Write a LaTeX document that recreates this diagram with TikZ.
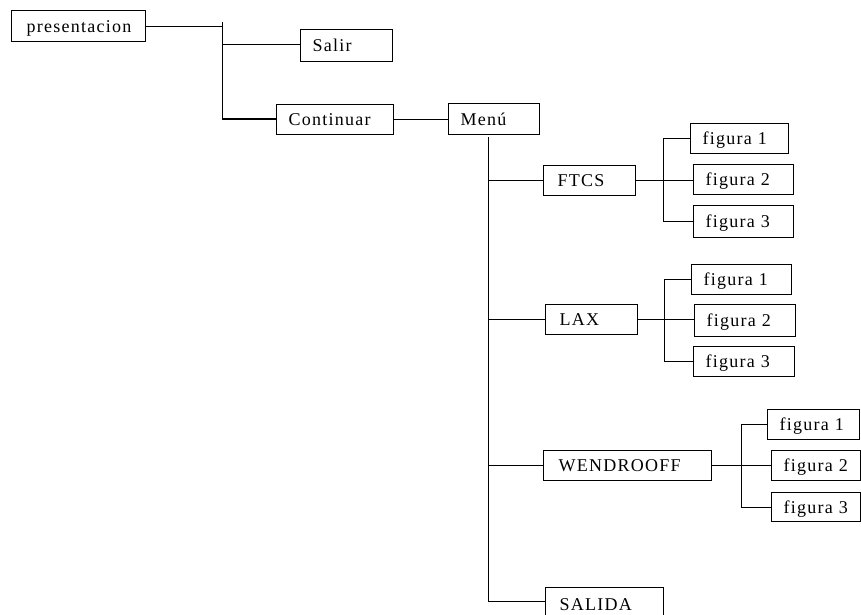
\documentclass[tikz,border=0pt]{standalone}
\usepackage{fontspec}
\setmainfont[LetterSpace=7]{Liberation Serif}
\begin{document}
\begin{tikzpicture}[x=1pt,y=-1pt,
  box/.style={draw, line width=1.1pt, anchor=north west, inner xsep=12pt, inner ysep=0pt,
    align=left, minimum height=30pt, text height=12pt, text depth=0pt,
    font=\fontsize{18}{20}\selectfont},
  conn/.style={line width=1pt}]
\useasboundingbox (0,0) rectangle (861,615);
% nodes
\node[box, inner xsep=15pt, text width=104pt, minimum height=31pt] (pres) at (11,10) {\mbox{presentacion}};
\node[box, text width=68pt, minimum height=32pt] (salir) at (300,29) {\mbox{Salir}};
\node[box, text width=93pt] (cont) at (276,104) {\mbox{Continuar}};
\node[box, text width=67pt, minimum height=31pt] (menu) at (448,103) {\mbox{Menú}};
\node[box, inner xsep=14pt, text width=64pt] (ftcs) at (543,165) {\mbox{FTCS}};
\node[box, text width=74pt] (f1a) at (690,123) {\mbox{figura 1}};
\node[box, text width=76pt] (f2a) at (693,164) {\mbox{figura 2}};
\node[box, text width=76pt, minimum height=32pt] (f3a) at (693,205) {\mbox{figura 3}};
\node[box, inner xsep=14pt, text width=64pt] (lax) at (545,304) {\mbox{LAX}};
\node[box, text width=76pt] (f1b) at (691,264) {\mbox{figura 1}};
\node[box, text width=77pt, minimum height=32pt] (f2b) at (694,304) {\mbox{figura 2}};
\node[box, text width=77pt] (f3b) at (693,346) {\mbox{figura 3}};
\node[box, inner xsep=15pt, text width=138pt] (wen) at (543,450) {\mbox{WENDROOFF}};
\node[box, text width=68pt] (f1c) at (767,409) {\mbox{figura 1}};
\node[box, text width=65pt] (f2c) at (771,450) {\mbox{figura 2}};
\node[box, text width=65pt, minimum height=29pt] (f3c) at (771,492) {\mbox{figura 3}};
\node[box, inner xsep=14pt, text width=90pt, minimum height=34pt] (salida) at (545,587) {\mbox{SALIDA}};
% junction coordinates
\coordinate (pt) at (222,22);
\coordinate (p1) at (222,45);
\coordinate (p2) at (222,119);
\coordinate (mt) at (488,137);
\coordinate (m1) at (488,180);
\coordinate (m2) at (488,319);
\coordinate (m3) at (488,465);
\coordinate (m4) at (488,601);
\coordinate (at) at (663,138);
\coordinate (ab) at (663,221);
\coordinate (bt) at (664,279);
\coordinate (bb) at (664,361);
\coordinate (ct) at (741,424);
\coordinate (cb) at (741,507);
% connectors
\draw[conn] (pres.east) -- (pres.east -| pt);
\draw[conn] (pt) -- (p2);
\draw[conn] (p1) -- (p1 -| salir.west);
\draw[conn] (p2) -- (p2 -| cont.west);
\draw[conn] (cont.east) -- (cont.east -| menu.west);
\draw[conn] (mt) -- (m4);
\draw[conn] (m1) -- (m1 -| ftcs.west);
\draw[conn] (m2) -- (m2 -| lax.west);
\draw[conn] (m3) -- (m3 -| wen.west);
\draw[conn] (m4) -- (m4 -| salida.west);
\draw[conn] (at) -- (ab);
\draw[conn] (ftcs.east) -- (ftcs.east -| f2a.west);
\draw[conn] (at) -- (at -| f1a.west);
\draw[conn] (ab) -- (ab -| f3a.west);
\draw[conn] (bt) -- (bb);
\draw[conn] (lax.east) -- (lax.east -| f2b.west);
\draw[conn] (bt) -- (bt -| f1b.west);
\draw[conn] (bb) -- (bb -| f3b.west);
\draw[conn] (ct) -- (cb);
\draw[conn] (wen.east) -- (wen.east -| f2c.west);
\draw[conn] (ct) -- (ct -| f1c.west);
\draw[conn] (cb) -- (cb -| f3c.west);
\end{tikzpicture}
\end{document}
